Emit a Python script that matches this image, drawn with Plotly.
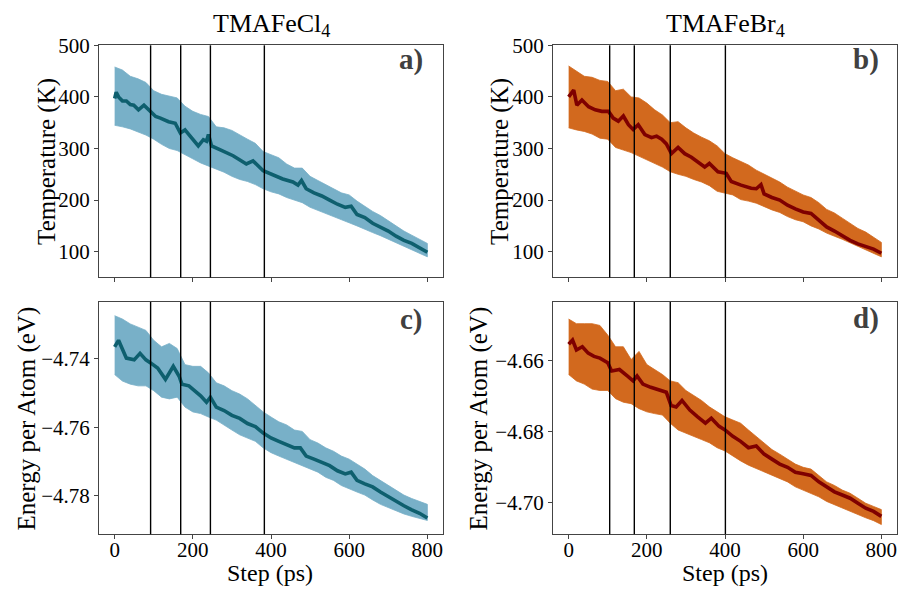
import plotly.graph_objects as go

# ---------------- data ----------------
band_x = list(range(0, 801, 20))

# Panel a: TMAFeCl4 temperature (K)
a_top = [458, 452, 440, 435, 428, 412, 405, 402, 398, 382, 372, 366, 362, 342, 340, 335, 326, 318, 310, 294, 288,
         282, 270, 262, 262, 246, 238, 230, 222, 214, 210, 198, 188, 178, 170, 160, 150, 140, 132, 124, 116]
a_bot = [345, 342, 338, 332, 326, 318, 308, 300, 296, 288, 280, 272, 266, 260, 254, 246, 240, 236, 230, 222, 216,
         212, 205, 200, 195, 186, 180, 174, 168, 162, 156, 150, 144, 137, 131, 124, 117, 110, 104, 97, 90]
a_mx = [0, 4, 10, 20, 30, 40, 49, 61, 75, 91, 105, 117, 138, 155, 168, 180, 197, 214, 227, 235, 240, 248, 269,
        303, 337, 354, 380, 397, 430, 456, 469, 478, 490, 510, 530, 550, 570, 590, 605, 620, 640, 660, 680, 700,
        720, 740, 760, 780, 800]
a_my = [397, 409, 400, 392, 392, 385, 384, 375, 384, 371, 362, 359, 352, 349, 330, 336, 321, 305, 317, 314, 327,
        305, 298, 286, 270, 276, 257, 251, 241, 235, 229, 238, 222, 214, 208, 200, 192, 186, 188, 172, 166, 155,
        148, 140, 130, 122, 116, 108, 99]

# Panel b: TMAFeBr4 temperature (K)
b_top = [460, 450, 440, 438, 432, 430, 412, 415, 400, 398, 388, 375, 365, 350, 352, 340, 330, 322, 315, 305, 290,
         282, 275, 268, 258, 250, 242, 235, 225, 218, 210, 205, 195, 182, 175, 165, 155, 145, 138, 128, 118]
b_bot = [340, 336, 333, 328, 320, 318, 302, 297, 292, 286, 278, 271, 264, 255, 250, 246, 240, 235, 228, 217, 214,
         210, 201, 198, 194, 187, 181, 176, 168, 162, 158, 150, 144, 136, 130, 124, 117, 110, 104, 97, 90]
b_mx = [0, 13, 21, 34, 51, 68, 85, 102, 114, 127, 140, 153, 165, 178, 195, 212, 225, 238, 250, 263, 280, 297, 314,
        331, 348, 360, 382, 403, 416, 441, 467, 480, 492, 500, 520, 540, 560, 580, 600, 620, 640, 660, 680, 700,
        720, 740, 760, 780, 800]
b_my = [400, 413, 384, 394, 381, 375, 372, 372, 359, 353, 363, 346, 337, 346, 327, 321, 324, 318, 309, 290, 302,
        290, 283, 274, 264, 271, 255, 252, 236, 229, 223, 222, 230, 212, 205, 200, 190, 183, 177, 174, 160, 148,
        140, 130, 122, 115, 110, 105, 97]

# Panel c: TMAFeCl4 energy per atom (eV)
c_top = [-4.7274, -4.7284, -4.7298, -4.7308, -4.7317, -4.7346, -4.7365, -4.7355, -4.7370, -4.7417, -4.7422,
         -4.7422, -4.7441, -4.7470, -4.7479, -4.7493, -4.7503, -4.7517, -4.7536, -4.7555, -4.7570, -4.7584,
         -4.7593, -4.7608, -4.7612, -4.7636, -4.7646, -4.7660, -4.7670, -4.7684, -4.7693, -4.7708, -4.7722,
         -4.7741, -4.7755, -4.7770, -4.7784, -4.7798, -4.7808, -4.7817, -4.7825]
c_bot = [-4.7446, -4.7465, -4.7474, -4.7479, -4.7479, -4.7493, -4.7512, -4.7517, -4.7512, -4.7541, -4.7555,
         -4.7560, -4.7570, -4.7579, -4.7593, -4.7608, -4.7622, -4.7631, -4.7641, -4.7660, -4.7674, -4.7684,
         -4.7693, -4.7703, -4.7712, -4.7722, -4.7731, -4.7746, -4.7755, -4.7770, -4.7779, -4.7789, -4.7798,
         -4.7812, -4.7825, -4.7834, -4.7844, -4.7853, -4.7860, -4.7867, -4.7872]
c_mx = [0, 10, 30, 50, 65, 80, 92, 110, 130, 150, 165, 172, 190, 200, 220, 235, 245, 260, 280, 300, 320, 340,
        360, 380, 400, 420, 440, 460, 475, 490, 510, 530, 550, 570, 590, 605, 620, 640, 660, 680, 700, 720, 740,
        760, 780, 800]
c_my = [-4.7365, -4.7346, -4.7398, -4.7403, -4.7384, -4.7403, -4.7412, -4.7427, -4.7460, -4.7422, -4.7451,
        -4.7474, -4.7479, -4.7489, -4.7508, -4.7527, -4.7512, -4.7541, -4.7551, -4.7565, -4.7574, -4.7589,
        -4.7598, -4.7617, -4.7631, -4.7641, -4.7651, -4.7660, -4.7660, -4.7684, -4.7693, -4.7703, -4.7712,
        -4.7727, -4.7736, -4.7731, -4.7755, -4.7765, -4.7774, -4.7789, -4.7803, -4.7817, -4.7829, -4.7841,
        -4.7851, -4.7865]

# Panel d: TMAFeBr4 energy per atom (eV)
d_top = [-4.6483, -4.6496, -4.6496, -4.6496, -4.6501, -4.6528, -4.6561, -4.6561, -4.6597, -4.6574, -4.6611,
         -4.6625, -4.6639, -4.6657, -4.6662, -4.6684, -4.6698, -4.6712, -4.6730, -4.6744, -4.6758, -4.6767,
         -4.6776, -4.6795, -4.6813, -4.6831, -4.6850, -4.6863, -4.6877, -4.6891, -4.6900, -4.6905, -4.6923,
         -4.6941, -4.6951, -4.6964, -4.6973, -4.6987, -4.7001, -4.7010, -4.7019]
d_bot = [-4.6639, -4.6657, -4.6666, -4.6680, -4.6684, -4.6684, -4.6707, -4.6717, -4.6721, -4.6735, -4.6744,
         -4.6749, -4.6753, -4.6776, -4.6795, -4.6804, -4.6813, -4.6822, -4.6831, -4.6845, -4.6854, -4.6868,
         -4.6882, -4.6894, -4.6905, -4.6914, -4.6921, -4.6932, -4.6941, -4.6955, -4.6964, -4.6973, -4.6983,
         -4.6996, -4.7006, -4.7015, -4.7024, -4.7033, -4.7042, -4.7050, -4.7061]
d_mx = [0, 10, 20, 35, 50, 65, 80, 100, 110, 130, 150, 165, 175, 190, 210, 230, 250, 262, 275, 290, 310, 330,
        350, 365, 385, 400, 420, 440, 460, 480, 500, 520, 540, 560, 580, 600, 620, 640, 660, 680, 700, 720, 740,
        760, 780, 800]
d_my = [-4.6554, -4.6542, -4.6570, -4.6561, -4.6579, -4.6588, -4.6593, -4.6606, -4.6629, -4.6625, -4.6643,
        -4.6657, -4.6643, -4.6666, -4.6675, -4.6683, -4.6689, -4.6726, -4.6730, -4.6712, -4.6739, -4.6758,
        -4.6776, -4.6762, -4.6785, -4.6795, -4.6813, -4.6827, -4.6845, -4.6840, -4.6863, -4.6877, -4.6891,
        -4.6900, -4.6914, -4.6918, -4.6923, -4.6941, -4.6955, -4.6969, -4.6978, -4.6987, -4.7001, -4.7015,
        -4.7024, -4.7038]

vlines_cl = [92, 169, 245, 383]
vlines_br = [105, 168, 260, 401]

titles = ["TMAFeCl<sub>4</sub>", "TMAFeBr<sub>4</sub>"]
panel_labels = ["a)", "b)", "c)", "d)"]
x_ticks = [0, 200, 400, 600, 800]
t_ticks = [100, 200, 300, 400, 500]
c_ticks = [-4.78, -4.76, -4.74]
d_ticks = [-4.70, -4.68, -4.66]

# ---------------- styling ----------------
BLUE_BAND = "#78b0c8"
BLUE_LINE = "#0e5f6e"
ORANGE_BAND = "#d2691e"
RED_LINE = "#7f0000"
FONT = "Liberation Serif"
FRAME = "#444444"

W, H = 900, 589
dom_x = [[99 / W, 443 / W], [553 / W, 897 / W]]
dom_y = [[1 - 271 / H, 1 - 34 / H], [1 - 533 / H, 1 - 296 / H]]

fig = go.Figure()

panels = [
    dict(ax="", top=a_top, bot=a_bot, mx=a_mx, my=a_my, band=BLUE_BAND, line=BLUE_LINE, vl=vlines_cl,
         col=0, row=0, yr=[50, 500], yt=t_ticks, ytxt=[str(v) for v in t_ticks], lx=0.907, ly=0.94),
    dict(ax="2", top=b_top, bot=b_bot, mx=b_mx, my=b_my, band=ORANGE_BAND, line=RED_LINE, vl=vlines_br,
         col=1, row=0, yr=[50, 500], yt=t_ticks, ytxt=[str(v) for v in t_ticks], lx=0.91, ly=0.94),
    dict(ax="3", top=c_top, bot=c_bot, mx=c_mx, my=c_my, band=BLUE_BAND, line=BLUE_LINE, vl=vlines_cl,
         col=0, row=1, yr=[-4.7912, -4.7234], yt=c_ticks, ytxt=["\u2212%.2f" % abs(v) for v in c_ticks],
         lx=0.907, ly=0.925),
    dict(ax="4", top=d_top, bot=d_bot, mx=d_mx, my=d_my, band=ORANGE_BAND, line=RED_LINE, vl=vlines_br,
         col=1, row=1, yr=[-4.7088, -4.6435], yt=d_ticks, ytxt=["\u2212%.2f" % abs(v) for v in d_ticks],
         lx=0.91, ly=0.93),
]

layout = {}
shapes = []
annotations = []
for i, p in enumerate(panels):
    xa, ya = "x" + p["ax"], "y" + p["ax"]
    fig.add_trace(go.Scatter(
        x=band_x + band_x[::-1], y=p["top"] + p["bot"][::-1], xaxis=xa, yaxis=ya,
        fill="toself", fillcolor=p["band"], line=dict(width=0.8, color=p["band"]),
        mode="lines", hoverinfo="skip", showlegend=False))
    fig.add_trace(go.Scatter(
        x=p["mx"], y=p["my"], xaxis=xa, yaxis=ya, mode="lines",
        line=dict(color=p["line"], width=3.6), showlegend=False))
    for v in p["vl"]:
        shapes.append(dict(type="line", xref=xa, yref=ya + " domain", x0=v, x1=v, y0=0, y1=1,
                           line=dict(color="black", width=1.4)))
    xkey = "xaxis" + p["ax"]
    ykey = "yaxis" + p["ax"]
    layout[xkey] = dict(domain=dom_x[p["col"]], anchor=ya, range=[-40, 840], tickvals=x_ticks,
                        showticklabels=(p["row"] == 1), ticks="outside", ticklen=4, tickcolor=FRAME,
                        ticklabelstandoff=-7,
                        showline=True, mirror=True, linecolor=FRAME, linewidth=1, showgrid=False,
                        zeroline=False, tickfont=dict(family=FONT, size=21, color="black"))
    layout[ykey] = dict(domain=dom_y[p["row"]], anchor=xa, range=p["yr"], tickvals=p["yt"],
                        ticktext=p["ytxt"], ticks="outside", ticklen=4, tickcolor=FRAME,
                        showline=True, mirror=True, linecolor=FRAME, linewidth=1, showgrid=False,
                        zeroline=False, tickfont=dict(family=FONT, size=21, color="black"))
    annotations.append(dict(text="<b>%s</b>" % panel_labels[i], xref=xa + " domain", yref=ya + " domain",
                            x=p["lx"], y=p["ly"], xanchor="center", yanchor="middle", showarrow=False,
                            font=dict(family=FONT, size=29, color="#404040")))

# column titles
annotations.append(dict(text=titles[0], x=271 / W, y=1 - 13 / H, xref="paper", yref="paper", showarrow=False,
                        font=dict(family=FONT, size=26, color="black"), xanchor="center", yanchor="middle"))
annotations.append(dict(text=titles[1], x=725 / W, y=1 - 13 / H, xref="paper", yref="paper", showarrow=False,
                        font=dict(family=FONT, size=26, color="black"), xanchor="center", yanchor="middle"))
# axis titles
for xc, yc, txt in [(47, 153, "Temperature (K)"), (500, 153, "Temperature (K)"),
                    (27, 415, "Energy per Atom (eV)"), (479, 415, "Energy per Atom (eV)")]:
    annotations.append(dict(text=txt, x=xc / W, y=1 - yc / H, xref="paper", yref="paper", showarrow=False,
                            textangle=-90, font=dict(family=FONT, size=25, color="black"),
                            xanchor="center", yanchor="middle"))
for xc in [270, 725]:
    annotations.append(dict(text="Step (ps)", x=xc / W, y=0, xref="paper", yref="paper",
                            showarrow=False, font=dict(family=FONT, size=24, color="black"),
                            xanchor="center", yanchor="bottom", yshift=1))

fig.update_layout(width=W, height=H, margin=dict(l=0, r=0, t=0, b=0), plot_bgcolor="white",
                  paper_bgcolor="white", shapes=shapes, annotations=annotations, showlegend=False,
                  **layout)
fig.write_html("out.html")
